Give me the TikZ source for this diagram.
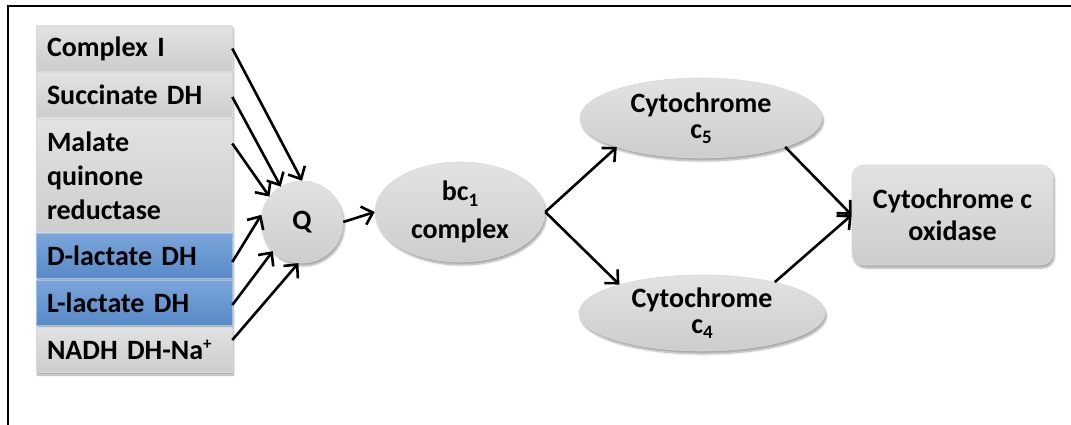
\documentclass[tikz,border=0pt]{standalone}
\usepackage{fontspec}
\setmainfont{Carlito}
\usetikzlibrary{shapes.geometric,arrows.meta,shadows.blur}

% small lowered / raised numerals in the labels
\newcommand\subnum[1]{\raisebox{-0.4ex}{\fontsize{19}{19}\selectfont #1}}
\newcommand\supchar[1]{\raisebox{0.75ex}{\fontsize{17}{17}\selectfont #1}}

\definecolor{boxtop}{RGB}{226,226,226}
\definecolor{boxbot}{RGB}{205,205,205}
\definecolor{bluetop}{RGB}{122,165,218}
\definecolor{bluebot}{RGB}{88,138,200}

\begin{document}
\begin{tikzpicture}[x=1pt,y=-1pt,
  txt/.style={font=\fontsize{28}{34}\selectfont\bfseries},
  shade3d/.style={blur shadow={shadow xshift=1.5pt,shadow yshift=-3pt,
      shadow blur steps=6,shadow opacity=35}},
  enzyme/.style={txt,rectangle,shade3d,top color=boxtop,bottom color=boxbot,
      draw=white!85!black,line width=0.6pt,
      text width=174pt,inner xsep=11pt,inner ysep=0pt,align=left,minimum height=45pt},
  lactate/.style={enzyme,top color=bluetop,bottom color=bluebot,draw=bluetop!70!white},
  oval/.style={txt,ellipse,shade3d,top color=boxtop,bottom color=boxbot,
      draw=white!85!black,line width=0.6pt,inner sep=0pt,align=center},
  flow/.style={-{Straight Barb[length=10pt,width=19pt,line width=2.6pt]},line width=2.6pt,black},
]
\useasboundingbox (0,0) rectangle (1071,425);

% cropped outer frame
\draw[line width=2pt] (8,425) -- (8,6.5) -- (1071,6.5);

% electron donors
\node[enzyme] (c1)  at (134,48.5)  {Complex I};
\node[enzyme] (sdh) at (134,95)    {Succinate DH};
\node[enzyme,minimum height=113pt] (mqr) at (134,175.5)
  {Malate\\quinone\\reductase};
\node[lactate] (dld) at (134,256)   {D-lactate DH};
\node[lactate] (lld) at (134,302.5) {L-lactate DH};
\node[enzyme] (nadh) at (134,349.5) {NADH DH-Na\supchar{+}};

% quinone pool
\node[oval,circle,minimum size=82pt] (q) at (302,222) {Q};

% bc1 complex, cytochromes and terminal oxidase
\node[oval,minimum width=170pt,minimum height=100pt,font=\fontsize{28}{38}\selectfont\bfseries] (bc) at (460,212)
  {bc\subnum{1}\\complex};
\node[oval,minimum width=242pt,minimum height=80pt,font=\fontsize{28}{26}\selectfont\bfseries] (c5) at (701,118)
  {Cytochrome\\c\subnum{5}};
\node[oval,minimum width=246pt,minimum height=76pt,font=\fontsize{28}{26}\selectfont\bfseries] (c4) at (702,313)
  {Cytochrome\\c\subnum{4}};
\node[txt,rectangle,rounded corners=12pt,shade3d,top color=boxtop,bottom color=boxbot,
  draw=white!85!black,line width=0.6pt,align=center,
  minimum width=201pt,minimum height=100pt,font=\fontsize{28}{32}\selectfont\bfseries] (ox) at (952.5,215)
  {Cytochrome c\\oxidase};

% electron flow into the quinone pool
\draw[flow] (c1.east) -- (q.90);
\draw[flow] ([yshift=-2pt]sdh.east) -- (q.121);
\draw[flow] ([yshift=32pt]mqr.east) -- (q.142);
\draw[flow] ([yshift=-6pt]dld.east) -- (q.170);
\draw[flow] ([yshift=-2.5pt]lld.east) -- (q.225);
\draw[flow] ([yshift=9.5pt]nadh.east) -- (q.265);

% onward to the oxidase
\draw[flow] (q.east) -- (bc.west);
\draw[flow] (bc.east) -- (c5.199);
\draw[flow] (bc.east) -- (c4.161);
\draw[flow] (c5.-19) -- (ox.west);
\draw[flow] (c4.23) -- (ox.west);
\end{tikzpicture}
\end{document}
